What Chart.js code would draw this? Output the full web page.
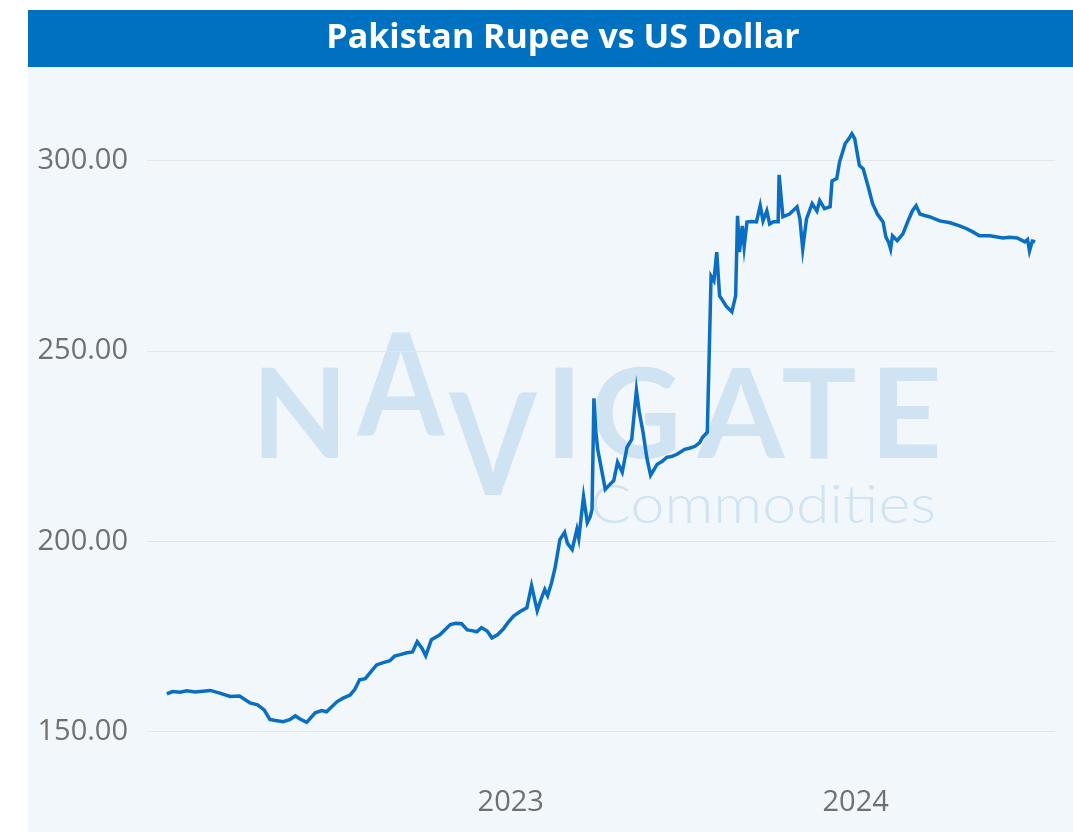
<!DOCTYPE html>
<html>
<head>
<meta charset="utf-8">
<title>Pakistan Rupee vs US Dollar</title>
<script src="https://cdn.jsdelivr.net/npm/chart.js@4"></script>
<style>
  html, body { margin: 0; padding: 0; background: #ffffff; }
  #chartContainer { display: block; }
</style>
</head>
<body>
<canvas id="chartContainer" width="1073" height="832"></canvas>
<script>
// days counted from 1 Jan of the first year on the axis
var days = [1, 7, 15, 22, 31, 39, 47, 57, 68, 78, 89, 97, 104, 110, 116, 124, 131, 137, 142, 149,
    158, 165, 170, 181, 187, 195, 200, 205, 211, 216, 223, 230, 237, 242, 248, 255, 261, 266, 271, 275,
    281, 290, 301, 307, 313, 319, 324, 329, 334, 340, 345, 351, 357, 362, 368, 375, 382, 387, 393, 397,
    401, 404, 408, 412, 417, 422, 425, 430, 435, 437, 442, 446, 449, 451, 453, 455, 457, 461, 465, 470,
    474, 478, 483, 488, 493, 498, 501, 505, 509, 513, 520, 525, 530, 535, 541, 549, 554, 560, 565, 568,
    573, 577, 580, 583, 586, 590, 593, 599, 603, 605, 607, 610, 612, 615, 620, 625, 629, 632, 636, 639,
    643, 648, 649, 653, 660, 668, 671, 674, 678, 684, 689, 692, 697, 703, 705, 710, 713, 719, 723, 726,
    729, 734, 738, 743, 748, 753, 759, 762, 765, 767, 769, 774, 780, 785, 790, 794, 798, 803, 808, 819,
    830, 840, 847, 854, 861, 872, 886, 893, 901, 909, 912, 914, 917, 920];

// PKR per USD
var rate = [160.0, 160.6, 160.4, 160.8, 160.5, 160.7, 160.9, 160.2, 159.3, 159.4, 157.6, 157.1, 155.8, 153.3, 153.0, 152.7, 153.2, 154.2, 153.4, 152.5,
    155.0, 155.6, 155.3, 157.9, 158.8, 159.7, 161.2, 163.7, 164.0, 165.5, 167.6, 168.2, 168.7, 169.9, 170.3, 170.8, 171.0, 173.7, 172.0, 170.0,
    174.2, 175.5, 178.2, 178.5, 178.4, 176.8, 176.6, 176.3, 177.4, 176.5, 174.7, 175.5, 177.0, 178.7, 180.4, 181.6, 182.6, 188.4, 181.8, 184.8,
    187.4, 185.8, 189.0, 193.2, 200.5, 202.4, 199.5, 197.9, 203.2, 200.8, 211.8, 205.0, 206.5, 208.4, 237.6, 229.0, 224.2, 219.0, 213.7, 215.0,
    216.0, 220.8, 218.2, 224.7, 226.8, 239.7, 234.0, 228.7, 222.0, 217.4, 220.3, 221.0, 222.1, 222.3, 222.9, 224.2, 224.5, 225.0, 226.0, 227.4,
    228.7, 269.7, 268.5, 276.0, 264.5, 263.0, 261.8, 260.3, 264.5, 285.5, 276.0, 282.9, 277.4, 283.9, 284.0, 283.9, 288.2, 284.2, 286.8, 283.4,
    284.0, 284.0, 296.3, 285.3, 286.0, 287.9, 284.7, 276.8, 284.7, 288.7, 286.8, 289.5, 287.4, 287.9, 294.7, 295.3, 299.7, 304.5, 305.8, 307.1,
    305.8, 298.7, 297.9, 293.4, 288.7, 286.0, 283.9, 280.0, 278.5, 276.8, 280.3, 279.0, 280.8, 283.9, 286.8, 288.2, 286.0, 285.6, 285.3, 284.2,
    283.7, 282.9, 282.2, 281.3, 280.3, 280.3, 279.7, 279.9, 279.7, 278.7, 279.3, 276.3, 278.9, 278.7];

var xTickDays = [365, 730];
var xTickLabels = ['2023', '2024'];
var yTicks = [150, 200, 250, 300];

var chartTitle = 'Pakistan Rupee vs US Dollar';
var watermarkWord = 'NAVIGATE';
var watermarkSub = 'Commodities';

var points = days.map(function(d, i) {
    return { x: d, y: rate[i] };
});

// background panel, blue title bar and the faint logo behind the grid
var backdrop = {
    id: 'backdrop',
    beforeDraw: function(chart) {
        var ctx = chart.ctx;
        ctx.save();
        ctx.fillStyle = '#ffffff';
        ctx.fillRect(0, 0, chart.width, chart.height);
        ctx.fillStyle = '#f2f7fc';
        ctx.fillRect(28, 67, chart.width - 28, chart.height - 67);
        ctx.fillStyle = '#0070c0';
        ctx.fillRect(28, 10, chart.width - 28, 57);

        ctx.fillStyle = '#ffffff';
        ctx.font = 'bold 34px "Open Sans"';
        ctx.textAlign = 'center';
        ctx.textBaseline = 'alphabetic';
        ctx.fillText(chartTitle, 563, 48);

        // watermark letters, placed one by one like the logo
        ctx.fillStyle = 'rgb(207,227,242)';
        ctx.font = 'bold 125px Lato';
        ctx.textAlign = 'center';
        var spots = [
            { cx: 300, base: 458, sy: 1 },
            { cx: 401, base: 435, sy: 1.14 },
            { cx: 493, base: 495, sy: 1.14 },
            { cx: 564, base: 458, sy: 1 },
            { cx: 636, base: 458, sy: 1 },
            { cx: 741, base: 458, sy: 1 },
            { cx: 819, base: 458, sy: 1 },
            { cx: 906, base: 458, sy: 1 }
        ];
        for (var i = 0; i < watermarkWord.length; i++) {
            var s = spots[i];
            ctx.save();
            ctx.translate(s.cx, s.base);
            ctx.scale(1, s.sy);
            ctx.fillText(watermarkWord[i], 0, 0);
            ctx.restore();
        }

        ctx.font = '300 54px Lato';
        ctx.textAlign = 'left';
        var w = ctx.measureText(watermarkSub).width;
        ctx.save();
        ctx.translate(590, 523);
        ctx.scale(346 / w, 1);
        ctx.fillText(watermarkSub, 0, 0);
        ctx.restore();
        ctx.restore();
    }
};

var ctx = document.getElementById('chartContainer').getContext('2d');
var myChart = new Chart(ctx, {
    type: 'line',
    data: {
        datasets: [{
            label: 'PKR/USD',
            data: points,
            borderColor: '#0a6fc2',
            borderWidth: 3.5,
            pointRadius: 0,
            tension: 0,
            fill: false
        }]
    },
    options: {
        responsive: false,
        animation: false,
        layout: {
            padding: { top: 115, right: 18, left: 0, bottom: 0 }
        },
        scales: {
            x: {
                type: 'linear',
                min: -20,
                max: 941,
                grid: { display: false },
                border: { display: false },
                afterFit: function(scale) { scale.height = 62; },
                afterBuildTicks: function(scale) {
                    scale.ticks = xTickDays.map(function(v) { return { value: v }; });
                },
                ticks: {
                    padding: 7,
                    maxRotation: 0,
                    color: '#707070',
                    font: { family: '"Open Sans"', size: 29 },
                    callback: function(value) {
                        var k = xTickDays.indexOf(value);
                        return k >= 0 ? xTickLabels[k] : '';
                    }
                }
            },
            y: {
                min: 140,
                max: 312,
                border: { display: false },
                grid: { color: '#e6e6e6', lineWidth: 1, drawTicks: false },
                afterFit: function(scale) { scale.width = 147; },
                afterBuildTicks: function(scale) {
                    scale.ticks = yTicks.map(function(v) { return { value: v }; });
                },
                ticks: {
                    padding: 19,
                    color: '#707070',
                    font: { family: '"Open Sans"', size: 29 },
                    callback: function(value) { return value.toFixed(2); }
                }
            }
        },
        plugins: {
            legend: { display: false },
            tooltip: { enabled: false }
        }
    },
    plugins: [backdrop]
});
</script>
</body>
</html>
